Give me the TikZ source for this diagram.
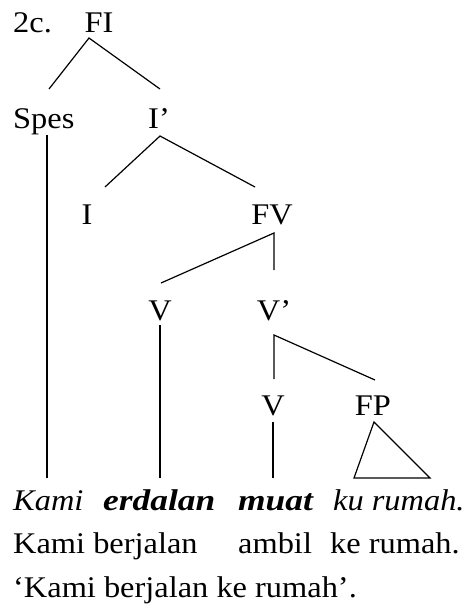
\documentclass[tikz,border=0pt]{standalone}
\usepackage{fontspec}
\setmainfont{Liberation Serif}[FakeStretch=1.08,BoldItalicFeatures={FakeStretch=1.18}]
\begin{document}
\begin{tikzpicture}[x=1pt,y=-1pt,
  lbl/.style={inner sep=0pt,anchor=base,font=\fontsize{30}{36}\selectfont},
  lblw/.style={inner sep=0pt,anchor=base west,font=\fontsize{30}{36}\selectfont},
  br/.style={line width=1.2pt}]
\useasboundingbox (0,0) rectangle (466,614);
% labels
\node[lblw] (ex) at (13,32) {2c.};
\node[lbl] (FI) at (99,32) {FI};
\node[lblw] (Spes) at (13,128) {Spes};
\node[lbl] (Ibar) at (159,128) {I’};
\node[lbl] (I) at (87,224) {I};
\node[lbl] (FV) at (272,224) {FV};
\node[lbl] (V1) at (160,320) {V};
\node[lbl] (Vbar) at (274,320) {V’};
\node[lbl] (V2) at (273,415) {V};
\node[lbl] (FP) at (373,415) {FP};
% branch points
\coordinate (FIs) at (89,38);
\coordinate (Spesn) at (49,89);
\coordinate (Ibarn) at (160,89);
\coordinate (Spess) at (47,135);
\coordinate (Ibars) at (160,136);
\coordinate (In) at (105,187);
\coordinate (FVn) at (255,187);
\coordinate (FVs) at (274,233);
\coordinate (V1n) at (161,283);
\coordinate (Vbarn) at (274,270);
\coordinate (V1s) at (160,325);
\coordinate (Vbars) at (274,335);
\coordinate (V2n) at (274,379);
\coordinate (FPn) at (375,380);
\coordinate (V2s) at (273,422);
\coordinate (FPs) at (374,422);
\coordinate (tl) at (354,478);
\coordinate (tr) at (430,478);
\coordinate (Kt) at (47,478);
\coordinate (Et) at (160,478);
\coordinate (Mt) at (273,478);
\draw[br] (Spesn) -- (FIs) -- (Ibarn);
\draw[br] (In) -- (Ibars) -- (FVn);
\draw[br] (V1n) -- (FVs) -- (Vbarn);
\draw[br] (V2n) -- (Vbars) -- (FPn);
\draw[br] (Spess) -- (Kt);
\draw[br] (V1s) -- (Et);
\draw[br] (V2s) -- (Mt);
\draw[br] (FPs) -- (tl) -- (tr) -- cycle;
% text lines
\node[lblw] (w1) at (13,510) {\itshape Kami};
\node[lblw] (w2) at (103,510) {\bfseries\itshape erdalan};
\node[lblw] (w3) at (238,510) {\bfseries\itshape muat};
\node[lblw] (w4) at (333,510) {\itshape ku rumah.};
\node[lblw] (g1) at (13,553) {Kami berjalan};
\node[lblw] (g2) at (238,553) {ambil};
\node[lblw] (g3) at (330,553) {ke rumah.};
\node[lblw] (tr1) at (13,597) {‘Kami berjalan ke rumah’.};
\end{tikzpicture}
\end{document}
